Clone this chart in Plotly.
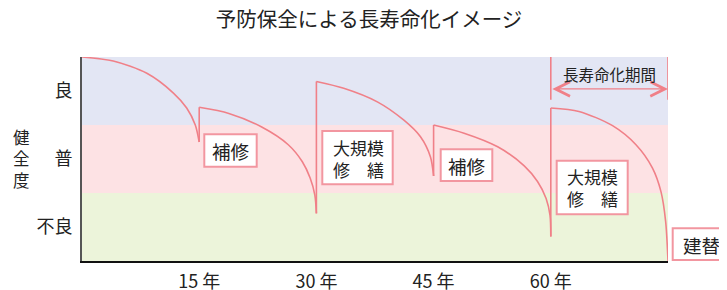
import plotly.graph_objects as go

# ---- data ----
years_ticks = [15, 30, 45, 60]
year_labels = ["15 年", "30 年", "45 年", "60 年"]
levels = [0.5, 1.5, 2.5]
level_labels = ["不良", "普", "良"]
band_edges = [0, 1, 2, 3]

curve1_x = [0, 4.0, 8.3, 11.7, 13.4, 14.5, 15]
curve1_y = [3.0, 2.94, 2.76, 2.47, 2.25, 2.0, 1.75]
curve2_x = [15, 18.8, 23.0, 26.4, 28.2, 29.2, 29.8, 30]
curve2_y = [2.26, 2.17, 1.97, 1.71, 1.46, 1.22, 0.97, 0.70]
curve3_x = [30, 33.5, 37.8, 41.2, 43.3, 44.6, 45]
curve3_y = [2.64, 2.54, 2.34, 2.07, 1.83, 1.53, 1.25]
curve4_x = [45, 48.9, 53.2, 56.6, 58.3, 59.4, 59.9, 60]
curve4_y = [2.0, 1.88, 1.68, 1.40, 1.17, 0.92, 0.67, 0.36]
curve5_x = [60, 63.6, 67.9, 70.9, 73.0, 74.1, 74.7, 75]
curve5_y = [2.25, 2.2, 1.99, 1.71, 1.37, 1.02, 0.58, 0.0]

period_start, period_end = 60, 75
period_label = "長寿命化期間"

FONT = "Noto Sans CJK JP"
LINE = "rgb(240,128,136)"
BOX = "rgb(242,150,160)"
TXT = "#222222"
band_colors = ["#ECF4DA", "#FDE2E4", "#E3E6F4"]

# geometry in screen pixels; page body has an 8px margin
OFF = 8
W, H = 727, 290
L, R, T, B = 82, 668, 57, 261

fig = go.Figure()

curves = [(curve1_x, curve1_y), (curve2_x, curve2_y), (curve3_x, curve3_y),
          (curve4_x, curve4_y), (curve5_x, curve5_y)]
for cx, cy in curves:
    fig.add_trace(go.Scatter(x=cx, y=cy, mode="lines",
                             line=dict(color=LINE, width=1.6, shape="spline", smoothing=0.8),
                             cliponaxis=False, hoverinfo="skip", showlegend=False))
for (ax_, ay_), (bx_, by_) in zip(curves[:-1], curves[1:]):
    fig.add_trace(go.Scatter(x=[ax_[-1], bx_[0]], y=[ay_[-1], by_[0]], mode="lines",
                             line=dict(color=LINE, width=1.6),
                             cliponaxis=False, hoverinfo="skip", showlegend=False))
for xv in (period_start, period_end):
    fig.add_trace(go.Scatter(x=[xv, xv], y=[3.0, 2.37], mode="lines",
                             line=dict(color=LINE, width=1.6),
                             cliponaxis=False, hoverinfo="skip", showlegend=False))

shapes = []
for i in range(3):
    shapes.append(dict(type="rect", xref="x", yref="y", x0=0, x1=75,
                       y0=band_edges[i], y1=band_edges[i + 1],
                       fillcolor=band_colors[i], line=dict(width=0), layer="below"))


def px_x(p):
    return (p - L) / (R - L)


def px_y(p):
    return (B - p) / (B - T)


boxes = [
    (204.3, 134.3, 256.7, 166.7),
    (322.3, 131.0, 392.7, 184.3),
    (440.7, 149.3, 492.3, 181.0),
    (556.7, 160.7, 627.7, 214.3),
    (672.7, 228.3, 740.0, 260.0),
]
for x0, y0, x1, y1 in boxes:
    shapes.append(dict(type="rect", xref="paper", yref="paper",
                       x0=px_x(x0), x1=px_x(x1), y0=px_y(y1), y1=px_y(y0),
                       fillcolor="white", line=dict(color=BOX, width=2), layer="above"))

annotations = []
texts = [
    ("補修", 230.5, 151, 18.5),
    ("大規模<br>修　繕", 358, 158, 17),
    ("補修", 466.5, 165.5, 18.5),
    ("大規模<br>修　繕", 592.5, 187, 17),
    ("建替", 701.5, 245, 18.5),
]
for t, x, y, fs in texts:
    annotations.append(dict(text=t, xref="paper", yref="paper", x=px_x(x), y=px_y(y),
                            xanchor="center", yanchor="middle", showarrow=False,
                            font=dict(family=FONT, size=fs, color=TXT)))

annotations.append(dict(x=period_end, y=2.53, ax=period_start, ay=2.53,
                        xref="x", yref="y", axref="x", ayref="y", text="",
                        showarrow=True, arrowhead=5, startarrowhead=5,
                        arrowside="end+start", arrowsize=2.2, startarrowsize=2.2,
                        arrowwidth=1.3, arrowcolor=LINE, standoff=0, startstandoff=0))
annotations.append(dict(text=period_label, xref="x", yref="y",
                        x=(period_start + period_end) / 2, y=2.75,
                        xanchor="center", yanchor="middle", showarrow=False,
                        font=dict(family=FONT, size=15.5, color=TXT)))

annotations.append(dict(text="健<br>全<br>度", xref="paper", yref="paper",
                        x=px_x(21), y=px_y(158), xanchor="center", yanchor="middle",
                        showarrow=False, font=dict(family=FONT, size=16.5, color=TXT)))

fig.update_layout(
    width=W, height=H,
    margin=dict(l=L - OFF, r=W - (R - OFF), t=T - OFF, b=H - (B - OFF), pad=0, autoexpand=False),
    paper_bgcolor="white", plot_bgcolor="white",
    title=dict(text="予防保全による長寿命化イメージ", x=(369 - OFF) / W, xanchor="center",
               y=1 - (20 - OFF) / H, yanchor="middle", yref="container",
               font=dict(family=FONT, size=20.5, color=TXT)),
    shapes=shapes, annotations=annotations, showlegend=False,
    xaxis=dict(range=[0, 75], showgrid=False, zeroline=False, showline=True,
               linecolor="#111111", linewidth=2, tickvals=years_ticks, ticktext=year_labels,
               ticks="", ticklabelstandoff=3, automargin=False,
               tickfont=dict(family=FONT, size=18, color=TXT), fixedrange=True),
    yaxis=dict(range=[0, 3], showgrid=False, zeroline=False, showline=True,
               linecolor="#555555", linewidth=2, tickvals=levels, ticktext=level_labels,
               ticks="", ticklabelstandoff=4, automargin=False,
               tickfont=dict(family=FONT, size=18, color=TXT), fixedrange=True),
)

fig.write_html("out.html")
